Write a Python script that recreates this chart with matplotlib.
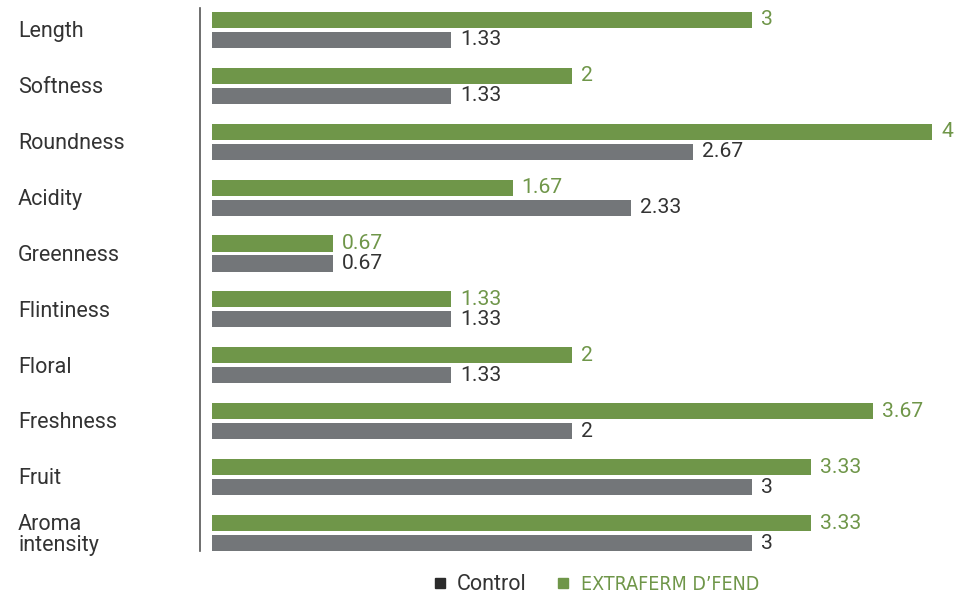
import matplotlib.pyplot as plt
import matplotlib.transforms as mtransforms
from matplotlib.lines import Line2D
import numpy as np

plt.rcParams['font.family'] = ['Roboto', 'DejaVu Sans']

# data
categories = ['Length', 'Softness', 'Roundness', 'Acidity', 'Greenness',
              'Flintiness', 'Floral', 'Freshness', 'Fruit', 'Aroma\nintensity']
extraferm = [3, 2, 4, 1.67, 0.67, 1.33, 2, 3.67, 3.33, 3.33]
control = [1.33, 1.33, 2.67, 2.33, 0.67, 1.33, 1.33, 2, 3, 3]
extraferm_lbl = ['3', '2', '4', '1.67', '0.67', '1.33', '2', '3.67', '3.33', '3.33']
control_lbl = ['1.33', '1.33', '2.67', '2.33', '0.67', '1.33', '1.33', '2', '3', '3']

green = '#6f9649'
gray = '#737679'
txt = '#333333'

fig = plt.figure(figsize=(9.73, 5.95), dpi=100)
ax = fig.add_axes([212/973, 1 - 551/595, 756/973, 543/595])

y = np.arange(len(categories))
h = 0.287
off = 0.179
ax.barh(y - off, extraferm, height=h, color=green)
ax.barh(y + off, control, height=h, color=gray)

ax.set_xlim(0, 4.2)
ax.set_ylim(9.32, -0.39)

dx = mtransforms.offset_copy(ax.transData, fig=fig, x=9, y=0, units='dots')
for i in range(len(categories)):
    ax.text(extraferm[i], y[i] - off, extraferm_lbl[i], transform=dx,
            color=green, fontsize=15.2, va='center', ha='left', clip_on=False)
    ax.text(control[i], y[i] + off, control_lbl[i], transform=dx,
            color=txt, fontsize=15.2, va='center', ha='left', clip_on=False)

# category labels on the left
trans = mtransforms.blended_transform_factory(fig.transFigure, ax.transData)
for i, c in enumerate(categories):
    ax.text(18/973, y[i] + 0.03, c, transform=trans, ha='left', va='center',
            fontsize=15.5, color=txt, linespacing=1.0)

for s in ['top', 'right', 'bottom']:
    ax.spines[s].set_visible(False)
ax.spines['left'].set_position(('outward', 8.5))
ax.spines['left'].set_color('#555555')
ax.spines['left'].set_linewidth(1.2)
ax.set_xticks([])
ax.set_yticks([])

handles = [Line2D([], [], marker='s', linestyle='none', color='#2b2b2b', markersize=7.5),
           Line2D([], [], marker='s', linestyle='none', color=green, markersize=7.5)]
leg = fig.legend(handles, ['Control', 'EXTRAFERM D\u2019FEND'], ncol=2,
                 loc='center', bbox_to_anchor=(594/973, 1 - 585/595),
                 frameon=False, fontsize=15.5, handletextpad=0.3, columnspacing=1.2,
                 handlelength=1.0)
t1, t2 = leg.get_texts()
t1.set_color(txt)
t2.set_color(green)
t2.set_family(['DejaVu Sans'])
t2.set_stretch('condensed')
t2.set_fontsize(14)

fig.savefig('out.png', dpi=100)
